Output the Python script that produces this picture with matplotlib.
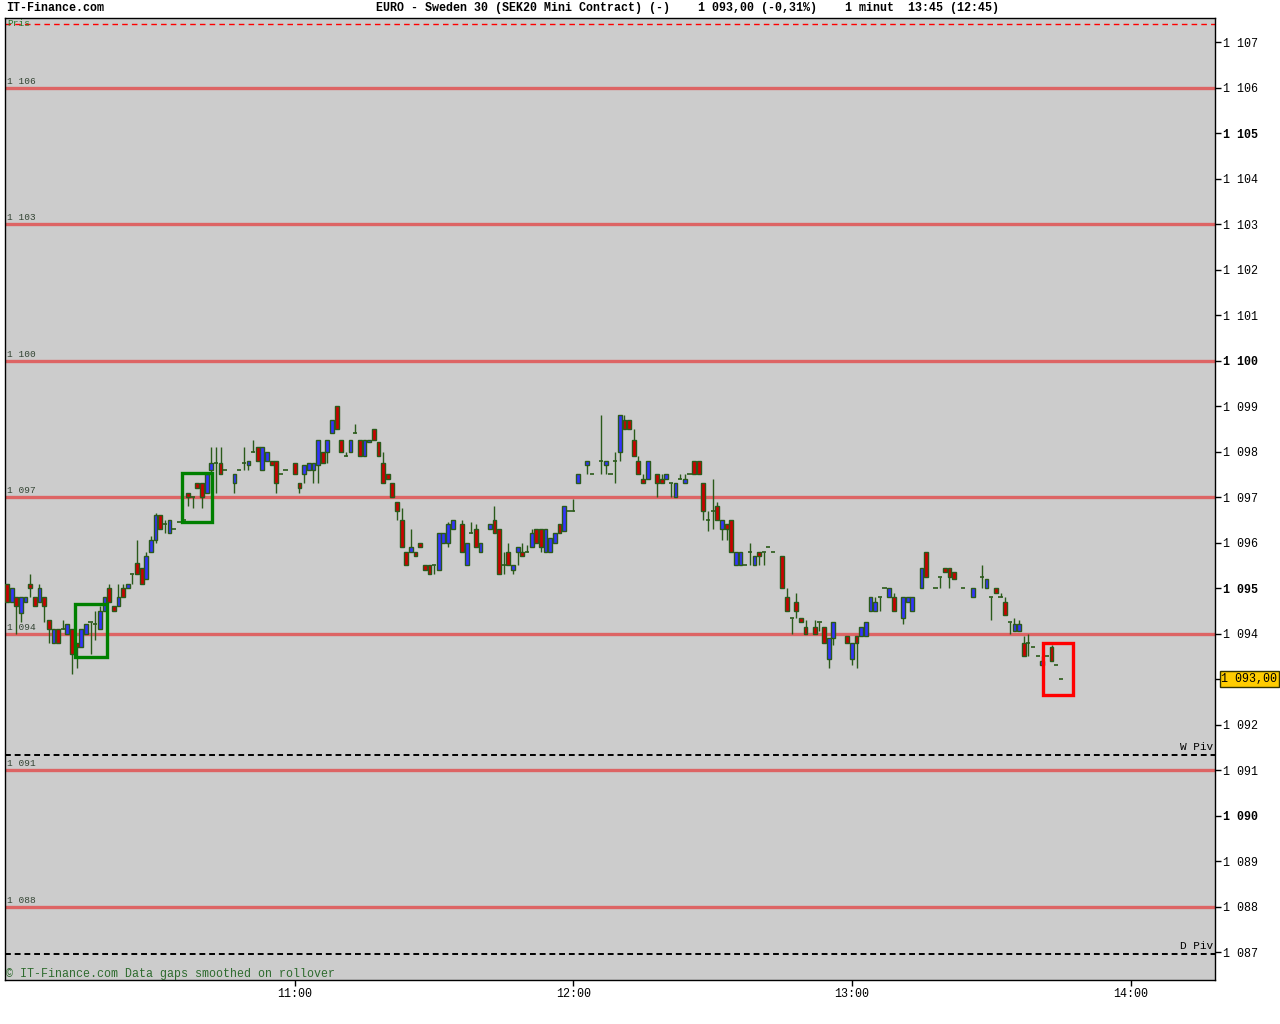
import matplotlib
matplotlib.use("Agg")
import matplotlib.pyplot as plt
from matplotlib.patches import Rectangle
from matplotlib.transforms import blended_transform_factory

# 1 minute candles, minute 0 = 09:58, None = no trade that minute
opens = [
    1095.10, 1094.70, 1094.80, 1094.45, 1094.70, 1095.10, 1094.80, 1094.70, 1094.80, 1094.30,
    1093.80, 1094.10, 1094.10, 1094.00, 1094.10, 1093.80, 1093.70, 1094.00, 1094.25, 1094.20,
    1094.10, 1094.50, 1095.00, 1094.60, 1094.60, 1095.00, 1095.00, 1095.30, 1095.55, 1095.45,
    1095.20, 1095.80, 1096.05, 1096.60, 1096.40, 1096.20, 1096.30, 1096.45, 1096.50, 1097.10,
    1097.00, 1097.30, 1097.30, 1097.10, 1097.60, 1097.75, 1097.75, 1097.60, None, 1097.30,
    1097.60, 1097.75, 1097.70, 1098.00, 1098.10, 1097.60, 1097.80, 1097.80, 1097.80, 1097.50,
    1097.60, None, 1097.75, 1097.30, 1097.50, 1097.60, 1097.60, 1097.70, 1098.00, 1098.00,
    1098.40, 1099.00, 1098.25, 1097.90, 1098.00, 1098.40, 1098.25, 1097.90, 1098.20, 1098.50,
    1098.20, 1097.75, 1097.50, 1097.30, 1096.90, 1096.50, 1095.80, 1095.80, 1095.80, 1096.00,
    1095.50, 1095.50, 1095.50, 1095.40, 1096.00, 1096.00, 1096.30, None, 1096.40, 1095.50,
    1096.20, 1096.30, 1095.80, None, 1096.30, 1096.50, 1096.30, 1095.50, 1095.80, 1095.40,
    1095.80, 1095.80, 1095.80, 1095.90, 1096.30, 1096.30, 1095.80, 1095.80, 1096.00, 1096.40,
    1096.25, 1096.70, 1096.70, 1097.30, None, 1097.70, 1097.50, None, 1097.80, 1097.70,
    1097.50, 1097.80, 1098.00, 1098.70, 1098.70, 1098.25, 1097.80, 1097.40, 1097.40, None,
    1097.50, 1097.40, 1097.40, 1097.30, 1097.00, 1097.40, 1097.30, 1097.50, 1097.80, 1097.80,
    1097.30, 1096.50, 1096.70, 1096.80, 1096.30, 1096.40, 1096.50, 1095.50, 1095.50, 1095.50,
    1095.80, 1095.50, 1095.80, 1095.80, 1095.90, 1095.80, None, 1095.70, 1094.80, 1094.35,
    1094.70, 1094.35, 1094.15, None, 1094.15, 1094.25, 1094.15, 1093.45, 1093.90, None,
    None, 1093.95, 1093.45, 1093.95, 1093.95, 1093.95, 1094.50, 1094.50, 1094.80, 1095.00,
    1094.80, 1094.80, None, 1094.35, 1094.70, 1094.50, None, 1095.00, 1095.80, None,
    1095.00, 1095.25, 1095.45, 1095.45, 1095.35, None, 1095.00, None, 1094.80, None,
    1095.25, 1095.00, 1094.80, 1095.00, 1094.80, 1094.70, 1094.25, 1094.05, 1094.05, 1093.80,
    1093.80, 1093.70, 1093.50, 1093.30, 1093.50, 1093.70, 1093.30, 1093.00,
]
highs = [
    1095.10, 1095.00, 1094.80, 1094.80, 1094.80, 1095.30, 1094.80, 1095.10, 1094.80, 1094.30,
    1094.10, 1094.10, 1094.30, 1094.20, 1094.10, 1093.80, 1094.10, 1094.20, 1094.25, 1094.50,
    1094.60, 1094.80, 1095.10, 1094.60, 1095.10, 1095.10, 1095.10, 1095.30, 1096.05, 1095.45,
    1095.80, 1096.15, 1096.65, 1096.60, 1096.50, 1096.50, 1096.30, 1096.45, 1096.50, 1097.10,
    1097.00, 1097.30, 1097.30, 1097.50, 1098.10, 1098.10, 1098.10, 1097.60, None, 1097.50,
    1097.60, 1098.10, 1097.80, 1098.25, 1098.10, 1098.10, 1098.00, 1097.80, 1097.80, 1097.50,
    1097.60, None, 1097.75, 1097.30, 1097.70, 1097.75, 1097.75, 1098.25, 1098.00, 1098.25,
    1098.70, 1099.00, 1098.25, 1098.00, 1098.25, 1098.60, 1098.25, 1098.25, 1098.25, 1098.50,
    1098.20, 1098.00, 1097.50, 1097.30, 1096.90, 1096.75, 1095.80, 1096.30, 1095.80, 1096.00,
    1095.50, 1095.50, 1095.50, 1096.20, 1096.20, 1096.45, 1096.50, None, 1096.50, 1096.00,
    1096.45, 1096.40, 1096.00, None, 1096.40, 1096.80, 1096.30, 1095.80, 1096.00, 1095.50,
    1095.90, 1096.00, 1095.95, 1096.30, 1096.30, 1096.30, 1096.30, 1096.10, 1096.20, 1096.40,
    1096.80, 1096.70, 1096.95, 1097.50, None, 1097.80, 1097.50, None, 1098.80, 1097.80,
    1097.50, 1098.00, 1098.80, 1098.80, 1098.70, 1098.50, 1097.90, 1097.50, 1097.80, None,
    1097.50, 1097.50, 1097.50, 1097.30, 1097.30, 1097.50, 1097.50, 1097.50, 1097.80, 1097.80,
    1097.30, 1096.70, 1097.40, 1096.90, 1096.50, 1096.40, 1096.50, 1095.80, 1095.80, 1095.50,
    1096.00, 1095.70, 1095.80, 1095.80, 1095.90, 1095.80, None, 1095.70, 1095.00, 1094.35,
    1094.90, 1094.35, 1094.30, None, 1094.30, 1094.25, 1094.15, 1093.90, 1094.25, None,
    None, 1093.95, 1093.80, 1093.95, 1094.15, 1094.25, 1094.80, 1094.80, 1094.80, 1095.00,
    1095.00, 1094.90, None, 1094.80, 1094.80, 1094.80, None, 1095.45, 1095.80, None,
    1095.00, 1095.25, 1095.45, 1095.45, 1095.35, None, 1095.00, None, 1095.00, None,
    1095.50, 1095.20, 1094.80, 1095.00, 1094.90, 1094.80, 1094.25, 1094.35, 1094.30, 1093.95,
    1094.00, 1093.70, 1093.50, 1093.50, 1093.50, 1093.75, 1093.30, 1093.00,
]
lows = [
    1094.70, 1094.70, 1094.00, 1094.25, 1094.70, 1094.80, 1094.60, 1094.70, 1094.25, 1093.80,
    1093.80, 1093.80, 1094.10, 1094.00, 1093.10, 1093.25, 1093.70, 1094.00, 1093.55, 1093.85,
    1094.10, 1094.50, 1094.70, 1094.50, 1094.60, 1094.80, 1095.00, 1095.10, 1095.30, 1095.10,
    1095.20, 1095.80, 1096.00, 1096.30, 1096.20, 1096.20, 1096.30, 1096.45, 1096.50, 1096.80,
    1096.75, 1097.20, 1096.75, 1097.10, 1097.10, 1097.10, 1097.50, 1097.60, None, 1097.10,
    1097.60, 1097.60, 1097.60, 1098.00, 1097.80, 1097.60, 1097.80, 1097.70, 1097.10, 1097.50,
    1097.60, None, 1097.50, 1097.10, 1097.30, 1097.60, 1097.30, 1097.30, 1097.75, 1097.75,
    1098.40, 1098.50, 1098.00, 1097.90, 1098.00, 1098.40, 1097.90, 1097.90, 1098.20, 1098.25,
    1097.90, 1097.30, 1097.40, 1097.00, 1096.50, 1095.90, 1095.50, 1095.80, 1095.70, 1095.90,
    1095.40, 1095.30, 1095.30, 1095.40, 1096.00, 1095.90, 1096.30, None, 1095.80, 1095.50,
    1096.20, 1095.90, 1095.80, None, 1096.30, 1096.20, 1095.30, 1095.30, 1095.50, 1095.30,
    1095.50, 1095.70, 1095.80, 1095.90, 1096.00, 1095.80, 1095.80, 1095.80, 1096.00, 1096.20,
    1096.25, 1096.70, 1096.70, 1097.30, None, 1097.50, 1097.50, None, 1097.50, 1097.50,
    1097.50, 1097.30, 1097.80, 1098.50, 1098.50, 1097.90, 1097.50, 1097.30, 1097.40, None,
    1097.00, 1097.30, 1097.40, 1097.00, 1097.00, 1097.40, 1097.30, 1097.50, 1097.50, 1097.50,
    1096.50, 1096.25, 1096.30, 1096.50, 1096.05, 1096.05, 1095.80, 1095.50, 1095.50, 1095.50,
    1095.50, 1095.50, 1095.50, 1095.50, 1095.90, 1095.80, None, 1095.00, 1094.50, 1094.00,
    1094.35, 1094.25, 1094.00, None, 1094.00, 1094.05, 1093.80, 1093.25, 1093.75, None,
    None, 1093.80, 1093.30, 1093.25, 1093.95, 1093.95, 1094.50, 1094.50, 1094.50, 1095.00,
    1094.80, 1094.50, None, 1094.20, 1094.70, 1094.50, None, 1095.00, 1095.25, None,
    1095.00, 1095.00, 1095.35, 1095.00, 1095.20, None, 1095.00, None, 1094.80, None,
    1095.00, 1095.00, 1094.30, 1094.90, 1094.80, 1094.40, 1094.00, 1094.05, 1094.05, 1093.50,
    1093.50, 1093.70, 1093.50, 1093.30, 1093.50, 1093.40, 1093.30, 1093.00,
]
closes = [
    1094.70, 1095.00, 1094.60, 1094.80, 1094.80, 1095.00, 1094.60, 1095.00, 1094.60, 1094.10,
    1094.10, 1093.80, 1094.10, 1094.20, 1093.55, 1093.70, 1094.10, 1094.20, 1094.25, 1094.20,
    1094.50, 1094.80, 1094.70, 1094.50, 1094.80, 1094.80, 1095.10, 1095.30, 1095.30, 1095.10,
    1095.70, 1096.05, 1096.60, 1096.30, 1096.40, 1096.50, 1096.30, 1096.45, 1096.50, 1097.00,
    1097.00, 1097.20, 1097.00, 1097.50, 1097.75, 1097.75, 1097.50, 1097.60, None, 1097.50,
    1097.60, 1097.75, 1097.80, 1098.00, 1097.80, 1098.10, 1098.00, 1097.70, 1097.30, 1097.50,
    1097.60, None, 1097.50, 1097.20, 1097.70, 1097.75, 1097.75, 1098.25, 1097.75, 1098.25,
    1098.70, 1098.50, 1098.00, 1097.90, 1098.25, 1098.40, 1097.90, 1098.25, 1098.25, 1098.25,
    1097.90, 1097.30, 1097.40, 1097.00, 1096.70, 1095.90, 1095.50, 1095.90, 1095.70, 1095.90,
    1095.40, 1095.30, 1095.50, 1096.20, 1096.20, 1096.40, 1096.50, None, 1095.80, 1096.00,
    1096.20, 1095.90, 1096.00, None, 1096.40, 1096.20, 1095.30, 1095.50, 1095.50, 1095.50,
    1095.90, 1095.70, 1095.80, 1096.20, 1096.00, 1095.90, 1096.30, 1096.10, 1096.20, 1096.20,
    1096.80, 1096.70, 1096.70, 1097.50, None, 1097.80, 1097.50, None, 1097.80, 1097.80,
    1097.50, 1097.80, 1098.80, 1098.50, 1098.50, 1097.90, 1097.50, 1097.30, 1097.80, None,
    1097.30, 1097.30, 1097.50, 1097.30, 1097.30, 1097.40, 1097.40, 1097.50, 1097.50, 1097.50,
    1096.70, 1096.50, 1096.70, 1096.50, 1096.50, 1096.30, 1095.80, 1095.80, 1095.80, 1095.50,
    1095.80, 1095.70, 1095.70, 1095.80, 1095.90, 1095.80, None, 1095.00, 1094.50, 1094.35,
    1094.50, 1094.25, 1094.00, None, 1094.00, 1094.25, 1093.80, 1093.90, 1094.25, None,
    None, 1093.80, 1093.80, 1093.80, 1094.15, 1094.25, 1094.80, 1094.70, 1094.80, 1095.00,
    1095.00, 1094.50, None, 1094.80, 1094.80, 1094.80, None, 1095.45, 1095.25, None,
    1095.00, 1095.25, 1095.35, 1095.25, 1095.20, None, 1095.00, None, 1095.00, None,
    1095.25, 1095.20, 1094.80, 1094.90, 1094.80, 1094.40, 1094.25, 1094.20, 1094.20, 1093.50,
    1093.80, 1093.70, 1093.50, 1093.40, 1093.50, 1093.40, 1093.30, 1093.00,
]

# support / resistance levels
levels = [1106, 1103, 1100, 1097, 1094, 1091, 1088]
pris_level = 1107.4
pivots = {"W Piv": 1091.33, "D Piv": 1086.96}
last_price = 1093.00
last_label = "1 093,00"

# highlighted patterns: (start minute, end minute, low, high)
green_boxes = [(14.6, 21.5, 1093.48, 1094.65), (37.7, 44.2, 1096.45, 1097.53)]
red_boxes = [(223.2, 229.6, 1092.65, 1093.79)]

time_ticks = [62, 122, 182, 242]
time_labels = ["11:00", "12:00", "13:00", "14:00"]

mono = "Liberation Mono"
edge = "#2a5a1a"

fig = plt.figure(figsize=(12.8, 10.24), dpi=100)
ax = fig.add_axes([5 / 1280, 44 / 1024, 1210 / 1280, 962 / 1024])
ax.set_facecolor("#cccccc")
ax.set_xlim(-0.43, 260.2)
ax.set_ylim(1086.385, 1107.53)
ytrans = blended_transform_factory(ax.transAxes, ax.transData)

# levels
for lv in levels:
    ax.axhline(lv, color="#dd6464", lw=2.4, zorder=1)
    ax.text(0.0015, lv + 0.04, f"1 {lv - 1000:03d}", transform=ytrans,
            fontsize=6.8, family=mono, color="#334433", va="bottom", ha="left")

ax.axhline(pris_level, color="red", lw=1, ls=(0, (4, 3)), zorder=1)
ax.text(0.0015, pris_level, "Pris", transform=ytrans,
        fontsize=6.8, family=mono, color="#2a7a2a", va="center", ha="left")

for name, lv in pivots.items():
    ax.axhline(lv, color="black", lw=1.4, ls=(0, (3, 2)), zorder=1)
    ax.text(0.9985, lv + 0.06, name, transform=ytrans,
            fontsize=8, family=mono, color="black", va="bottom", ha="right")

# candles
for i in range(len(closes)):
    o, h, l, c = opens[i], highs[i], lows[i], closes[i]
    if c is None:
        continue
    ax.vlines(i, l, h, color=edge, lw=1, zorder=2)
    if c == o:
        ax.hlines(c, i - 0.45, i + 0.45, color=edge, lw=1.2, zorder=3)
    else:
        col = "#3333ff" if c > o else "#cc0000"
        ax.bar(i, abs(c - o), bottom=min(o, c), width=0.82, color=col,
               edgecolor=edge, linewidth=1, zorder=3)

for x0, x1, y0, y1 in green_boxes:
    ax.add_patch(Rectangle((x0, y0), x1 - x0, y1 - y0, fill=False, ec="#008000", lw=2.4, zorder=4))
for x0, x1, y0, y1 in red_boxes:
    ax.add_patch(Rectangle((x0, y0), x1 - x0, y1 - y0, fill=False, ec="#ff0000", lw=2.4, zorder=4))

# axes
ax.yaxis.tick_right()
yt = list(range(1087, 1108))
ax.set_yticks(yt)
# the price box takes the place of the 1 093 label
ax.set_yticklabels(["" if v == last_price else f"1 {v - 1000:03d}" for v in yt], family=mono, fontsize=8.4)
for lab, v in zip(ax.get_yticklabels(), yt):
    if v % 5 == 0:
        lab.set_fontweight("bold")
ax.set_xticks(time_ticks)
ax.set_xticklabels(time_labels, family=mono, fontsize=8.4)
ax.tick_params(axis="both", direction="out", length=4, width=1, pad=2, colors="black")
for s in ax.spines.values():
    s.set_linewidth(1)
    s.set_color("black")

ax.annotate(last_label, xy=(1, last_price),
            xycoords=("axes fraction", "data"), xytext=(4.5, 0), textcoords="offset points",
            va="center", ha="left", family=mono, fontsize=8.4,
            bbox=dict(boxstyle="square,pad=0.15", fc="#ffcc00", ec="#333300", lw=1))

ax.text(0.001, 0.0065, "\u00a9 IT-Finance.com Data gaps smoothed on rollover", transform=ax.transAxes,
        fontsize=8.4, family=mono, color="#2e6b2e", va="center", ha="left")

fig.text(6 / 1280, 1 - 8 / 1024, "IT-Finance.com", family=mono, fontsize=8.4, fontweight="bold", va="center")
fig.text(376 / 1280, 1 - 8 / 1024,
         "EURO - Sweden 30 (SEK20 Mini Contract) (-)    1 093,00 (-0,31%)    1 minut  13:45 (12:45)",
         family=mono, fontsize=8.4, fontweight="bold", va="center")

fig.savefig("out.png", dpi=100, facecolor="white")
